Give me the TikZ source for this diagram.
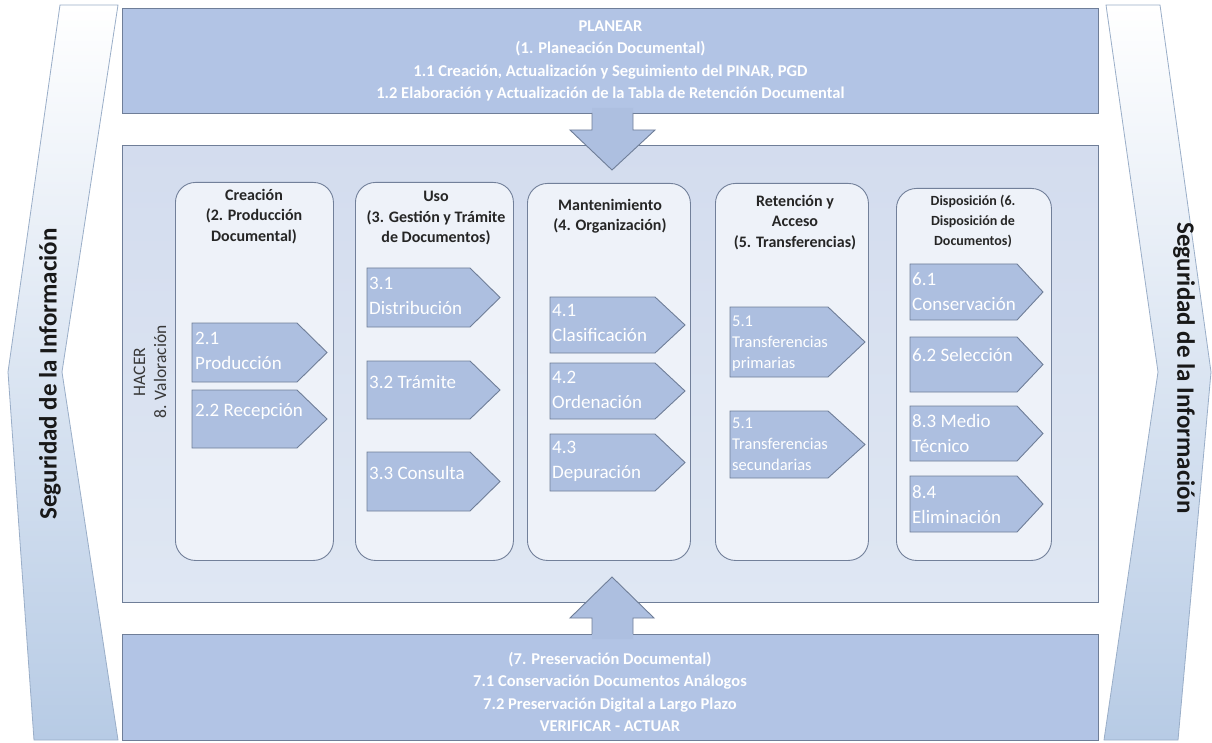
\documentclass[tikz,border=0pt]{standalone}
\usepackage{fontspec}
\setmainfont{Carlito}
\definecolor{bannerfill}{HTML}{B2C4E5}
\definecolor{edge}{HTML}{6F7E98}
\definecolor{coledge}{HTML}{72809A}
\definecolor{midtop}{HTML}{D3DCEE}
\definecolor{midbot}{HTML}{DFE7F3}
\definecolor{colfill}{HTML}{EEF2F9}
\definecolor{pentfill}{HTML}{ADBFE0}
\definecolor{chevbot}{HTML}{B7CBE5}
\definecolor{chevedge}{HTML}{9AAEC8}
\newcommand\pentagonshape[6]{%
  \draw[pentbody] (#2,#3) -- (#4,#3) -- (#5,{(#3+#6)/2}) -- (#4,#6) -- (#2,#6) -- cycle;
  \coordinate (#1) at (#2,#3);}
\begin{document}
\begin{tikzpicture}[x=1pt,y=-1pt,
  banner/.style={draw=edge, fill=bannerfill, line width=0.9pt, inner sep=0pt, anchor=north west},
  bannertext/.style={text=white, align=center, inner sep=0pt, font=\bfseries\fontsize{16.5}{22.5}\selectfont},
  colbox/.style={draw=coledge, fill=colfill, rounded corners=20pt, line width=0.9pt, anchor=north west, inner sep=0pt},
  pentbody/.style={draw=edge, fill=pentfill, line width=0.9pt},
  penttext/.style={anchor=north west, inner sep=0pt, text=white, align=left, font=\fontsize{19}{25}\selectfont},
  penttextsmall/.style={penttext, font=\fontsize{16.5}{21}\selectfont},
  coltitle/.style={anchor=north, inner sep=0pt, align=center, font=\bfseries\fontsize{16}{20.5}\selectfont, text=black!85},
  chevron/.style={draw=chevedge, top color=white, bottom color=chevbot, line width=0.8pt},
  chevtext/.style={font=\bfseries\fontsize{25}{30}\selectfont, text=black!90, inner sep=0pt},
  arrowbody/.style={fill=pentfill},
  arrowline/.style={draw=edge, line width=0.9pt, line join=miter},
]
\useasboundingbox (0,0) rectangle (1212,743);
\fill[white] (0,0) rectangle (1212,743);

% side chevrons
\path[chevron] (60,5) -- (118,5) -- (62,372) -- (118,740) -- (34,740) -- (8,372) -- cycle;
\path[chevron] (1106,5) -- (1160,5) -- (1211,372) -- (1178,740) -- (1104,740) -- (1158,372) -- cycle;
\node[chevtext, rotate=90] (segl) at (50,374) {Seguridad de la Información};
\node[chevtext, rotate=-90] (segr) at (1184,368) {Seguridad de la Información};

% banners and middle box
\node[banner, minimum width=976pt, minimum height=105pt] (plan) at (122,8) {};
\node[bannertext] (plantext) at (plan.center) {PLANEAR\\(1. Planeación Documental)\\1.1 Creación, Actualización y Seguimiento del PINAR, PGD\\1.2 Elaboración y Actualización de la Tabla de Retención Documental};
\node[draw=edge, line width=0.9pt, top color=midtop, bottom color=midbot, minimum width=976pt, minimum height=457pt, anchor=north west, inner sep=0pt] (hacer) at (122,145) {};
\node[banner, minimum width=976pt, minimum height=106pt] (verif) at (122,634) {};
\node[bannertext] (veriftext) at (610,692) {(7. Preservación Documental)\\7.1 Conservación Documentos Análogos\\7.2 Preservación Digital a Largo Plazo\\VERIFICAR - ACTUAR};

% block arrows
\coordinate (dn) at (612,170);
\coordinate (up) at (612,577);
\fill[arrowbody] (592,108) -- (592,130) -- (570,130) -- (dn) -- (655,130) -- (633,130) -- (633,108) -- cycle;
\draw[arrowline] (592,113) -- (592,130) -- (570,130) -- (dn) -- (655,130) -- (633,130) -- (633,113);
\fill[arrowbody] (592,639) -- (592,618) -- (570,618) -- (up) -- (654,618) -- (633,618) -- (633,639) -- cycle;
\draw[arrowline] (592,634) -- (592,618) -- (570,618) -- (up) -- (654,618) -- (633,618) -- (633,634);

\node[rotate=90, align=center, inner sep=0pt, text=black!78, font=\fontsize{17.5}{21}\selectfont] (hacertext) at (150,372) {HACER\\8. Valoración};

% columns
\node[colbox, minimum width=158pt, minimum height=378pt] (c1) at (175,182) {};
\node[colbox, minimum width=158pt, minimum height=378pt] (c2) at (355,182) {};
\node[colbox, minimum width=163pt, minimum height=377pt] (c3) at (527,183) {};
\node[colbox, minimum width=153pt, minimum height=377pt] (c4) at (715,183) {};
\node[colbox, minimum width=155pt, minimum height=372pt] (c5) at (896,188) {};

\node[coltitle] (c1t) at (254,189) {Creación\\(2. Producción\\Documental)};
\node[coltitle] (c2t) at (436,191) {Uso\\(3. Gestión y Trámite\\de Documentos)};
\node[coltitle] (c3t) at (610,199) {Mantenimiento\\(4. Organización)};
\node[coltitle] (c4t) at (795,195) {Retención y\\Acceso\\(5. Transferencias)};
\node[coltitle, font=\bfseries\fontsize{14}{20}\selectfont] (c5t) at (973,195) {Disposición (6.\\Disposición de\\Documentos)};

% pentagons column 1
\pentagonshape{p21}{192}{323}{297}{327}{382}
\pentagonshape{p22}{192}{390}{297}{327}{448}
\node[penttext] (p21t) at (195,332) {2.1\\Producción};
\node[penttext] (p22t) at (195,403) {2.2 Recepción};
% column 2
\pentagonshape{p31}{367}{268}{470}{500}{327}
\pentagonshape{p32}{367}{361}{470}{500}{419}
\pentagonshape{p33}{367}{452}{470}{500}{511}
\node[penttext] (p31t) at (369,277) {3.1\\Distribución};
\node[penttext] (p32t) at (369,375) {3.2 Trámite};
\node[penttext] (p33t) at (369,466) {3.3 Consulta};
% column 3
\pentagonshape{p41}{550}{297}{655}{685}{353}
\pentagonshape{p42}{550}{363}{655}{685}{419}
\pentagonshape{p43}{550}{434}{655}{685}{491}
\node[penttext] (p41t) at (552,304) {4.1\\Clasificación};
\node[penttext] (p42t) at (552,371) {4.2\\Ordenación};
\node[penttext] (p43t) at (552,441) {4.3\\Depuración};
% column 4
\pentagonshape{p51}{730}{307}{828}{865}{377}
\pentagonshape{p52}{730}{411}{828}{865}{478}
\node[penttextsmall] (p51t) at (732,316) {5.1\\Transferencias\\primarias};
\node[penttextsmall] (p52t) at (732,418) {5.1\\Transferencias\\secundarias};
% column 5
\pentagonshape{p61}{910}{264}{1017}{1043}{320}
\pentagonshape{p62}{910}{337}{1017}{1043}{392}
\pentagonshape{p63}{910}{406}{1017}{1043}{461}
\pentagonshape{p64}{910}{476}{1017}{1043}{532}
\node[penttext] (p61t) at (912,272) {6.1\\Conservación};
\node[penttext] (p62t) at (912,348) {6.2 Selección};
\node[penttext] (p63t) at (912,414) {8.3 Medio\\Técnico};
\node[penttext] (p64t) at (912,485) {8.4\\Eliminación};
\end{tikzpicture}
\end{document}
